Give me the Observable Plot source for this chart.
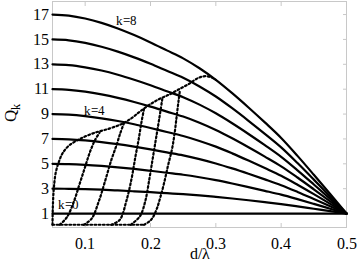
<!DOCTYPE html>
<html><head><meta charset="utf-8">
<script src="https://cdn.jsdelivr.net/npm/d3@7"></script>
<script src="https://cdn.jsdelivr.net/npm/@observablehq/plot@0.6"></script>
<style>
@font-face{font-family:"ChartSerif";src:local("Liberation Serif"),local("LiberationSerif"),local("Liberation Serif Regular"),local("LiberationSerif-Regular");}
body{margin:0;background:#fff}
#chart svg, #chart svg text{font-family:"ChartSerif","Liberation Serif",serif !important}
</style>
</head><body><div id="chart"></div>
<script>
// d/λ sample positions
const dVals = [0.05,0.075,0.1,0.125,0.15,0.175,0.2,0.225,0.25,0.275,0.3,0.325,0.35,0.375,0.4,0.425,0.45,0.475,0.5];
// Q_k solid curves (k = 0..8)
const q0 = [1,1,1,1,1,1,1,1,1,1,1,1,1,1,1,1,1,1,1];
const q1 = [3,2.99,2.96,2.92,2.86,2.79,2.72,2.64,2.56,2.46,2.34,2.21,2.07,1.92,1.76,1.58,1.39,1.2,1];
const q2 = [5,4.98,4.92,4.83,4.72,4.59,4.44,4.28,4.12,3.92,3.69,3.42,3.13,2.83,2.52,2.16,1.78,1.39,1];
const q3 = [7,6.97,6.88,6.75,6.58,6.38,6.16,5.92,5.68,5.38,5.03,4.63,4.2,3.75,3.28,2.74,2.17,1.59,1];
const q4 = [9,8.96,8.84,8.66,8.44,8.18,7.88,7.56,7.24,6.84,6.38,5.84,5.26,4.66,4.04,3.32,2.56,1.78,1];
const q5 = [11,10.95,10.8,10.58,10.3,9.97,9.6,9.2,8.8,8.3,7.72,7.05,6.33,5.58,4.8,3.9,2.95,1.98,1];
const q6 = [13,12.94,12.76,12.5,12.16,11.76,11.32,10.84,10.36,9.76,9.06,8.26,7.4,6.5,5.56,4.48,3.34,2.18,1];
const q7 = [15,14.93,14.72,14.41,14.02,13.56,13.04,12.48,11.92,11.22,10.41,9.47,8.46,7.41,6.32,5.06,3.73,2.37,1];
const q8 = [17,16.92,16.68,16.33,15.88,15.35,14.76,14.12,13.48,12.68,11.75,10.68,9.53,8.33,7.08,5.64,4.12,2.57,1];
const solidSeries = [q0,q1,q2,q3,q4,q5,q6,q7,q8];

// dotted curves: [d values], [Q values]
const baseD = [0.05,0.19];
const baseQ = [0.1,0.1];
const envD = [0.05,0.0505,0.052,0.055,0.06,0.066,0.076,0.092,0.112,0.138,0.158,0.173,0.185,0.2,0.215,0.23,0.242,0.258,0.273,0.284,0.293,0.3];
const envQ = [0.1,1.5,3.0,4.3,5.2,5.9,6.5,7.0,7.45,7.85,8.25,8.75,9.25,9.8,10.25,10.6,10.95,11.4,11.9,12.05,11.95,11.75];
const s1D = [0.061,0.072,0.083,0.091,0.099,0.107,0.115,0.122];
const s1Q = [0.1,0.7,2.0,3.3,4.6,5.9,6.9,7.5];
const s2D = [0.098,0.11,0.121,0.131,0.14,0.148,0.154,0.159];
const s2Q = [0.1,0.6,2.0,3.7,5.3,6.5,7.5,8.2];
const s3D = [0.14,0.153,0.163,0.171,0.177,0.182,0.186,0.19];
const s3Q = [0.1,0.5,2.0,3.8,5.6,7.0,8.3,9.4];
const s4D = [0.17,0.184,0.192,0.198,0.203,0.208,0.213,0.218];
const s4Q = [0.1,0.8,2.0,3.7,5.3,6.9,8.5,10.2];
const s5D = [0.19,0.201,0.209,0.215,0.221,0.227,0.233,0.237,0.24,0.243,0.245];
const s5Q = [0.1,0.5,1.3,2.3,3.5,4.9,6.2,7.5,8.8,10.1,10.9];
const dottedSeries = [[baseD,baseQ],[envD,envQ],[s1D,s1Q],[s2D,s2Q],[s3D,s3Q],[s4D,s4Q],[s5D,s5Q]];

const xTicks = [0.1,0.2,0.3,0.4,0.5];
const yTicks = [1,3,5,7,9,11,13,15,17];
const kLabels = ["k=8","k=4","k=0"];
const kLabelD = [0.163,0.114,0.0745];
const kLabelQ = [16.5,9.28,1.73];

const solid = solidSeries.flatMap((qs,k)=>qs.map((q,i)=>({k,d:dVals[i],q})));
const dotted = dottedSeries.flatMap(([ds,qs],id)=>ds.map((d,i)=>({id,d,q:qs[i]})));
const labels = kLabels.map((t,i)=>({t,d:kLabelD[i],q:kLabelQ[i]}));

const serif = "ChartSerif, Liberation Serif, serif";
const gray = "#c8c8c8";
const chart = Plot.plot({
  width:358, height:266,
  marginLeft:52, marginRight:12, marginTop:1, marginBottom:39,
  x:{domain:[0.05,0.5]},
  y:{domain:[-0.12,18.05]},
  style:{fontSize:"16px", background:"white", color:"black", fontFamily:serif},
  marks:[
    Plot.frame({stroke:gray}),
    Plot.axisX(xTicks,{anchor:"bottom", tickSize:-4, stroke:gray, tickFormat:()=>"", label:null}),
    Plot.axisX(xTicks,{anchor:"top", tickSize:-4, stroke:gray, tickFormat:()=>"", label:null}),
    Plot.axisY(yTicks,{anchor:"left", tickSize:-4, stroke:gray, tickFormat:()=>"", label:null}),
    Plot.axisY(yTicks,{anchor:"right", tickSize:-4, stroke:gray, tickFormat:()=>"", label:null}),
    Plot.axisX(xTicks,{anchor:"bottom", tickSize:0, tickPadding:10, fontSize:16, fontFamily:serif, label:null}),
    Plot.axisY(yTicks,{anchor:"left", tickSize:0, tickPadding:4, fontSize:16, fontFamily:serif, label:null}),
    Plot.line(dotted,{x:"d", y:"q", z:"id", stroke:"black", strokeWidth:2.2, strokeDasharray:"1.8,2.4", curve:"catmull-rom"}),
    Plot.line(solid,{x:"d", y:"q", z:"k", stroke:"black", strokeWidth:2.2, curve:"monotone-x"}),
    Plot.text(labels,{x:"d", y:"q", text:"t", fontSize:13, fontFamily:serif, fill:"black"}),
    Plot.text(["d/λ"],{text:d=>d, frameAnchor:"bottom", dy:31, fontSize:16, fontFamily:serif, fill:"black"})
  ]
});
document.getElementById("chart").appendChild(chart);
const svg = d3.select(chart);
const yl = svg.append("text")
  .attr("transform","translate(16,113) rotate(-90)")
  .attr("text-anchor","middle")
  .attr("font-family",serif)
  .attr("font-size",17).attr("fill","black");
yl.append("tspan").text("Q");
yl.append("tspan").attr("font-size",12).attr("dy",4).text("k");
</script>
</body></html>
